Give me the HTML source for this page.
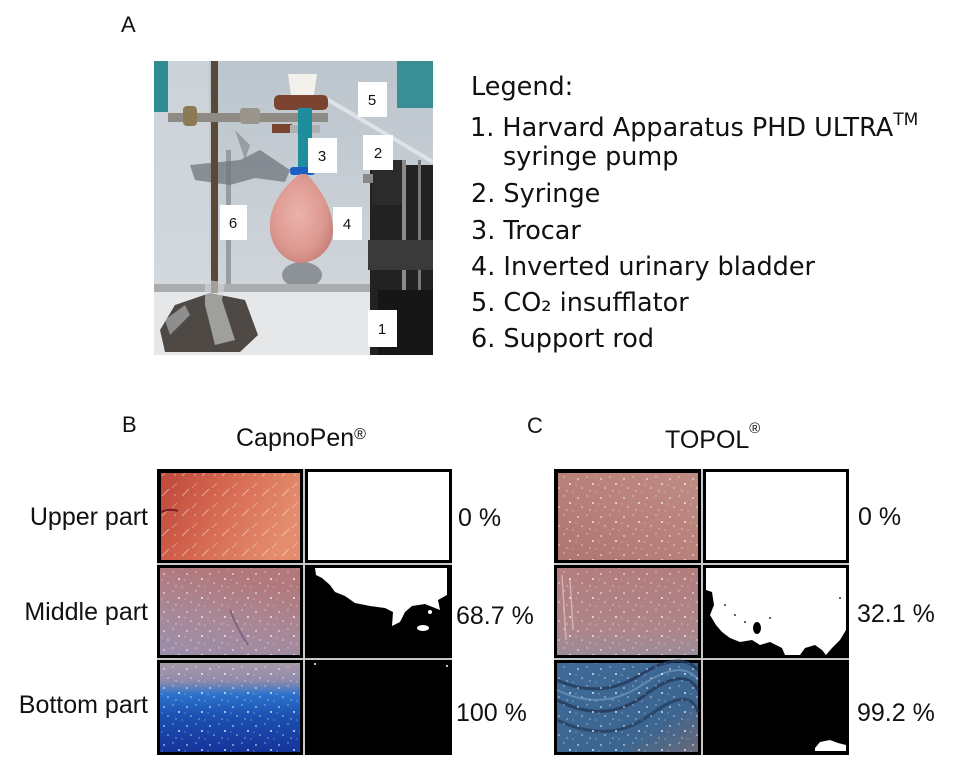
<!DOCTYPE html>
<html><head><meta charset="utf-8"><style>
html,body{margin:0;padding:0;background:#fff;}
svg{display:block;}
.lg{font-family:"DejaVu Sans","Liberation Sans",sans-serif;font-size:25.5px;fill:#111;}
.t{font-family:"Liberation Sans",sans-serif;font-size:25px;fill:#111;}
.h{font-family:"Liberation Sans",sans-serif;font-size:22px;fill:#111;}
.dg{font-family:"Liberation Sans",sans-serif;font-size:15px;fill:#111;text-anchor:middle;}
</style></head><body>
<svg width="955" height="771" viewBox="0 0 955 771" xmlns="http://www.w3.org/2000/svg">
<defs>
<clipPath id="pc"><rect x="154" y="61" width="279" height="294"/></clipPath>
<linearGradient id="wall" x1="0" y1="0" x2="0" y2="1">
<stop offset="0" stop-color="#bcc5cd"/><stop offset="0.6" stop-color="#cbd1d7"/><stop offset="1" stop-color="#d6dadd"/></linearGradient>
<radialGradient id="bl" cx="0.45" cy="0.45" r="0.6">
<stop offset="0" stop-color="#ebb3aa"/><stop offset="0.7" stop-color="#dc9890"/><stop offset="1" stop-color="#c98078"/></radialGradient>
<pattern id="sp" width="23" height="19" patternUnits="userSpaceOnUse">
<circle cx="3" cy="4" r="0.9" fill="#fff" opacity="0.75"/><circle cx="12" cy="2" r="0.7" fill="#fff" opacity="0.6"/>
<circle cx="18" cy="9" r="1" fill="#fff" opacity="0.8"/><circle cx="7" cy="13" r="0.8" fill="#fff" opacity="0.7"/>
<circle cx="15" cy="16" r="0.7" fill="#fff" opacity="0.6"/><circle cx="21" cy="17" r="0.6" fill="#fff" opacity="0.5"/>
<circle cx="1" cy="10" r="0.6" fill="#fff" opacity="0.5"/></pattern>
<pattern id="st" width="20" height="20" patternUnits="userSpaceOnUse">
<line x1="2" y1="16" x2="9" y2="9" stroke="#fff" stroke-width="1" opacity="0.45"/>
<line x1="12" y1="8" x2="17" y2="3" stroke="#fff" stroke-width="0.8" opacity="0.4"/>
<circle cx="15" cy="15" r="0.7" fill="#fff" opacity="0.6"/></pattern>
<linearGradient id="b1" x1="0" y1="0" x2="1" y2="0.3">
<stop offset="0" stop-color="#bf473a"/><stop offset="0.5" stop-color="#d66a52"/><stop offset="1" stop-color="#e48c6d"/></linearGradient>
<linearGradient id="b2" x1="0.3" y1="0" x2="0" y2="1">
<stop offset="0" stop-color="#b2787b"/><stop offset="0.5" stop-color="#a98796"/><stop offset="1" stop-color="#9a8fab"/></linearGradient>
<linearGradient id="b3" x1="0" y1="0" x2="0" y2="1">
<stop offset="0" stop-color="#a899a8"/><stop offset="0.2" stop-color="#8f8bac"/><stop offset="0.36" stop-color="#2a72cc"/><stop offset="0.6" stop-color="#1c50b2"/><stop offset="1" stop-color="#15349a"/></linearGradient>
<linearGradient id="c1" x1="0" y1="1" x2="1" y2="0">
<stop offset="0" stop-color="#b07670"/><stop offset="1" stop-color="#c08c84"/></linearGradient>
<linearGradient id="c2" x1="0" y1="0" x2="0" y2="1">
<stop offset="0" stop-color="#b37d7e"/><stop offset="0.7" stop-color="#ad8588"/><stop offset="1" stop-color="#9c8c9a"/></linearGradient>
<linearGradient id="c3" x1="0" y1="0" x2="1" y2="1">
<stop offset="0" stop-color="#3f6a98"/><stop offset="0.7" stop-color="#3c6590"/><stop offset="1" stop-color="#6a6a78"/></linearGradient>
</defs>
<rect width="955" height="771" fill="#fff"/>

<!-- Panel A photo -->
<g clip-path="url(#pc)">
<rect x="154" y="61" width="279" height="294" fill="url(#wall)"/>
<rect x="154" y="61" width="55" height="230" fill="#d6dbe0" opacity="0.6"/>
<rect x="154" y="61" width="14" height="51" fill="#2f8d92"/>
<rect x="397" y="61" width="36" height="47" fill="#3a8f94"/>
<rect x="226" y="150" width="5" height="138" fill="#8a9096" opacity="0.8"/>
<path d="M190 165 L240 160 L260 150 L275 160 L290 170 L285 182 L255 178 L230 185 L195 180 Z" fill="#6f767c" opacity="0.75"/>
<path d="M235 130 L250 145 L245 160 Z" fill="#7a8086" opacity="0.6"/>
<ellipse cx="302" cy="275" rx="20" ry="13" fill="#8d9297"/>
<rect x="154" y="288" width="279" height="67" fill="#e5e7e9"/>
<rect x="154" y="284" width="279" height="8" fill="#a9adb0"/>
<line x1="325" y1="98" x2="433" y2="162" stroke="#e2e8ee" stroke-width="4" opacity="0.85"/>
<rect x="211" y="61" width="7" height="232" fill="#5a4838"/>
<rect x="168" y="113" width="160" height="9" fill="#8e8a84"/>
<rect x="183" y="106" width="14" height="20" rx="4" fill="#8b7a55"/>
<rect x="240" y="108" width="20" height="16" rx="3" fill="#9a958c"/>
<rect x="274" y="95" width="54" height="15" rx="5" fill="#7b4330"/>
<rect x="272" y="124" width="20" height="9" fill="#7b4330"/>
<rect x="290" y="125" width="30" height="8" fill="#b0b0b0"/>
<path d="M288 74 L317 74 L314 95 L291 95 Z" fill="#f3f1ec"/>
<rect x="298" y="108" width="14" height="64" fill="#1f8e9c"/>
<rect x="290" y="167" width="25" height="8" rx="3" fill="#1b5ec4"/>
<path d="M300 174 C285 185,268 205,270 230 C272 252,290 264,302 263 C316 262,334 250,333 228 C332 205,318 185,306 174 Z" fill="url(#bl)"/>
<rect x="370" y="165" width="63" height="190" fill="#222"/>
<rect x="372" y="160" width="30" height="45" fill="#2b2b2b"/>
<rect x="363" y="174" width="10" height="9" fill="#888"/>
<rect x="402" y="160" width="4" height="140" fill="#8a8a8a"/>
<rect x="418" y="160" width="3" height="140" fill="#777"/>
<rect x="368" y="240" width="65" height="30" fill="#3a3a3a"/>
<rect x="378" y="290" width="55" height="65" fill="#161616"/>
<path d="M160 330 L175 305 L210 293 L245 300 L258 335 L240 352 L165 352 Z" fill="#4e4944"/>
<path d="M205 280 L225 282 L222 300 L235 340 L215 345 L205 305 Z" fill="#d5d8db" opacity="0.6"/>
<path d="M165 320 L185 305 L190 315 L170 335 Z" fill="#d0d4d8" opacity="0.5"/>
<rect x="358" y="82" width="29" height="35" fill="#fff"/><text class="dg" x="372" y="105">5</text>
<rect x="363" y="135" width="30" height="35" fill="#fff"/><text class="dg" x="378" y="158">2</text>
<rect x="308" y="138" width="29" height="35" fill="#fff"/><text class="dg" x="322" y="161">3</text>
<rect x="333" y="207" width="29" height="33" fill="#fff"/><text class="dg" x="347" y="229">4</text>
<rect x="220" y="205" width="27" height="35" fill="#fff"/><text class="dg" x="233" y="228">6</text>
<rect x="368" y="310" width="29" height="37" fill="#fff"/><text class="dg" x="382" y="334">1</text>
</g>

<!-- Text A and legend -->
<text class="h" x="121" y="32">A</text>
<text class="lg" x="471" y="95">Legend:</text>
<text class="lg" x="470" y="136">1. Harvard Apparatus PHD ULTRA<tspan font-size="17" dy="-11">TM</tspan></text>
<text class="lg" x="503" y="165">syringe pump</text>
<text class="lg" x="471" y="202">2. Syringe</text>
<text class="lg" x="471" y="239">3. Trocar</text>
<text class="lg" x="471" y="275">4. Inverted urinary bladder</text>
<text class="lg" x="471" y="311">5. CO₂ insufflator</text>
<text class="lg" x="471" y="347">6. Support rod</text>

<!-- Panel headers -->
<text class="h" x="122" y="432">B</text>
<text class="t" x="236" y="446">CapnoPen<tspan font-size="16" dy="-7">®</tspan></text>
<text class="h" x="527" y="433">C</text>
<text class="t" x="665" y="448">TOPOL<tspan font-size="15" dy="-15">®</tspan></text>

<text class="t" x="148" y="525" text-anchor="end">Upper part</text>
<text class="t" x="148" y="620" text-anchor="end">Middle part</text>
<text class="t" x="148" y="713" text-anchor="end">Bottom part</text>

<text class="t" x="458" y="526">0 %</text>
<text class="t" x="456" y="624">68.7 %</text>
<text class="t" x="456" y="721">100 %</text>
<text class="t" x="858" y="525">0 %</text>
<text class="t" x="857" y="622">32.1 %</text>
<text class="t" x="857" y="721">99.2 %</text>

<!-- Panel B grid -->
<rect x="157" y="469" width="295" height="286" fill="#c8c8c8"/>
<rect x="157" y="469" width="146" height="94" fill="#000"/>
<rect x="161" y="473" width="139" height="87" fill="url(#b1)"/>
<rect x="161" y="473" width="139" height="87" fill="url(#st)"/>
<path d="M161 512 Q170 508 178 511" stroke="#7a1a22" stroke-width="2" fill="none"/>
<rect x="305" y="469" width="147" height="94" fill="#000"/>
<rect x="308" y="472" width="141" height="88" fill="#fff"/>

<rect x="157" y="565" width="146" height="93" fill="#000"/>
<rect x="160" y="568" width="140" height="87" fill="url(#b2)"/>
<rect x="160" y="568" width="140" height="87" fill="url(#sp)"/>
<path d="M230 610 Q238 630 248 645" stroke="#6a5878" stroke-width="2" fill="none" opacity="0.7"/>
<rect x="305" y="565" width="147" height="93" fill="#000"/>
<path d="M315 568 L447 568 L447 595 L438 600 L440 610 L425 604 L412 606 L405 612 L400 622 L392 626 L393 612 L385 608 L370 606 L355 603 L345 596 L335 592 L330 585 L322 578 L316 575 Z" fill="#fff"/>
<ellipse cx="423" cy="628" rx="6" ry="3" fill="#fff"/>
<circle cx="430" cy="612" r="2" fill="#fff"/>

<rect x="157" y="660" width="146" height="95" fill="#000"/>
<rect x="160" y="663" width="140" height="89" fill="url(#b3)"/>
<rect x="160" y="663" width="140" height="89" fill="url(#sp)"/>
<rect x="305" y="660" width="147" height="95" fill="#000"/>
<circle cx="315" cy="664" r="1" fill="#fff"/><circle cx="447" cy="666" r="1" fill="#fff"/>

<!-- Panel C grid -->
<rect x="554" y="469" width="295" height="286" fill="#c8c8c8"/>
<rect x="554" y="469" width="147" height="94" fill="#000"/>
<rect x="558" y="473" width="140" height="87" fill="url(#c1)"/>
<rect x="558" y="473" width="140" height="87" fill="url(#sp)"/>
<rect x="703" y="469" width="146" height="94" fill="#000"/>
<rect x="706" y="472" width="140" height="88" fill="#fff"/>

<rect x="554" y="565" width="147" height="93" fill="#000"/>
<rect x="557" y="568" width="141" height="87" fill="url(#c2)"/>
<rect x="557" y="568" width="141" height="87" fill="url(#sp)"/>
<path d="M562 575 L566 640 M570 580 L573 630" stroke="#e8d0d0" stroke-width="1.5" opacity="0.6"/>
<rect x="703" y="565" width="146" height="93" fill="#000"/>
<rect x="706" y="568" width="140" height="87" fill="#fff"/>
<path d="M706 590 L712 592 L714 605 L710 615 L716 625 L722 632 L730 638 L740 642 L752 640 L760 645 L770 642 L782 648 L785 655 L706 655 Z" fill="#000"/>
<path d="M846 630 L840 640 L832 648 L826 655 L846 655 Z" fill="#000"/>
<path d="M800 655 L805 648 L815 645 L822 650 L826 655 Z" fill="#000"/>
<ellipse cx="757" cy="628" rx="4" ry="6" fill="#000"/>
<circle cx="725" cy="605" r="1" fill="#333"/><circle cx="735" cy="615" r="1" fill="#333"/><circle cx="745" cy="622" r="1" fill="#333"/><circle cx="770" cy="618" r="1" fill="#333"/><circle cx="840" cy="598" r="1" fill="#333"/>

<rect x="554" y="660" width="147" height="95" fill="#000"/>
<rect x="557" y="663" width="141" height="89" fill="url(#c3)"/>
<path d="M557 680 Q600 700 640 675 T698 670" stroke="#22395a" stroke-width="3" fill="none" opacity="0.8"/>
<path d="M557 700 Q605 725 645 695 T698 690" stroke="#22395a" stroke-width="3" fill="none" opacity="0.8"/>
<path d="M557 720 Q610 745 650 715 T698 712" stroke="#22395a" stroke-width="3" fill="none" opacity="0.7"/>
<path d="M557 690 Q602 712 642 685 T698 680" stroke="#7da3c6" stroke-width="2" fill="none" opacity="0.6"/>
<rect x="557" y="663" width="141" height="89" fill="url(#sp)"/>
<rect x="703" y="660" width="146" height="95" fill="#000"/>
<path d="M815 748 L820 742 L830 740 L838 743 L846 745 L846 751 L815 751 Z" fill="#fff"/>
</svg>
</body></html>
